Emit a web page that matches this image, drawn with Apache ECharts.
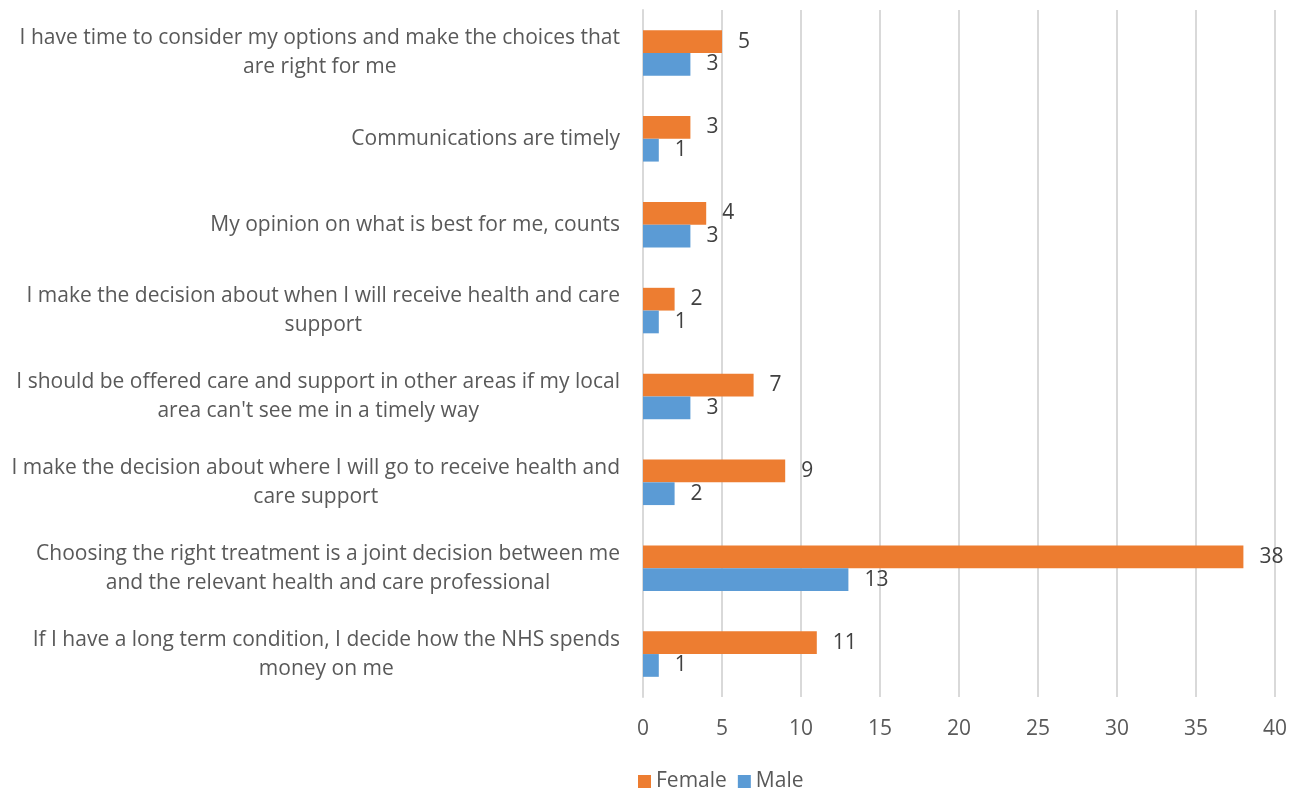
<!DOCTYPE html>
<html><head><meta charset="utf-8">
<script src="https://cdn.jsdelivr.net/npm/echarts@6/dist/echarts.min.js"></script>
<style>html,body{margin:0;padding:0;background:#fff}#c{width:1298px;height:790px}</style>
</head><body><div id="c"></div>
<script>
const categories = [
  "I have time to consider my options and make the choices that\nare right for me",
  "Communications are timely",
  "My opinion on what is best for me, counts",
  "I make the decision about when I will receive health and care\nsupport",
  "I should be offered care and support in other areas if my local\narea can't see me in a timely way",
  "I make the decision about where I will go to receive health and\ncare support",
  "Choosing the right treatment is a joint decision between me\nand the relevant health and care professional",
  "If I have a long term condition, I decide how the NHS spends\nmoney on me"
];
const female = [5, 3, 4, 2, 7, 9, 38, 11];
const male = [3, 1, 3, 1, 3, 2, 13, 1];
const xTicks = { min: 0, max: 40, interval: 5 };

const FONT = '"Open Sans", sans-serif';
const FS = 21;
const chart = echarts.init(document.getElementById('c'), null, { renderer: 'canvas' });
const labelStyle = { show: true, position: 'right', distance: 16, color: '#404040', fontSize: FS, fontFamily: FONT };
chart.setOption({
  animation: false,
  textStyle: { fontFamily: FONT },
  legend: {
    data: ['Female', 'Male'],
    left: 633, top: 766,
    itemWidth: 13, itemHeight: 13, itemGap: 11,
    icon: 'rect',
    textStyle: { color: '#595959', fontSize: FS, fontFamily: FONT }
  },
  grid: { left: 643, right: 23, top: 10, bottom: 93, containLabel: false },
  xAxis: {
    type: 'value', min: xTicks.min, max: xTicks.max, interval: xTicks.interval,
    axisLine: { show: false }, axisTick: { show: false },
    splitLine: { show: true, lineStyle: { color: '#d9d9d9', width: 2 } },
    axisLabel: { color: '#595959', fontSize: FS, fontFamily: FONT, margin: 22 }
  },
  yAxis: {
    type: 'category', data: categories, inverse: true,
    axisLine: { show: true, lineStyle: { color: '#d9d9d9', width: 2 } },
    axisTick: { show: false },
    axisLabel: {
      margin: 23, color: '#595959', fontSize: FS, fontFamily: FONT, lineHeight: 29,
      formatter: v => '{c|' + v + '}',
      rich: { c: { align: 'center', color: '#595959', fontSize: FS, fontFamily: FONT, lineHeight: 29 } }
    }
  },
  series: [
    { name: 'Female', type: 'bar', data: female, itemStyle: { color: '#ED7D31' },
      barGap: '0%', barCategoryGap: '47%', label: labelStyle },
    { name: 'Male', type: 'bar', data: male, itemStyle: { color: '#5B9BD5' },
      barGap: '0%', barCategoryGap: '47%', label: labelStyle }
  ]
});
</script></body></html>
